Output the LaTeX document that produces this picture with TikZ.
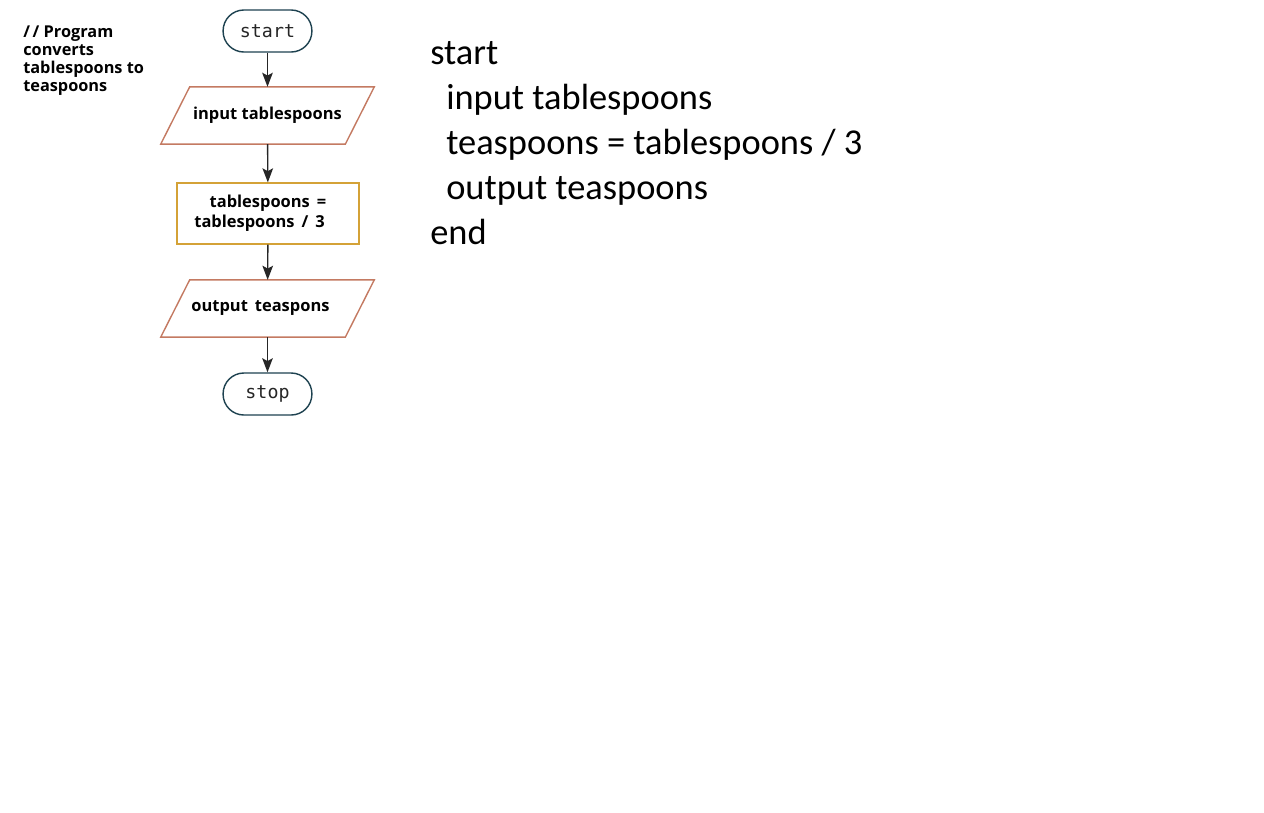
\documentclass[tikz,border=0pt]{standalone}
\usepackage{fontspec}
\setmainfont{Carlito}
\setmonofont{DejaVu Sans Mono}
\newfontfamily\chartfont{Open Sans}
\usetikzlibrary{shapes,arrows.meta,positioning,calc}
\definecolor{termline}{HTML}{1E4250}
\definecolor{ioline}{HTML}{C47A62}
\definecolor{procline}{HTML}{D4A237}

\begin{document}
\begin{tikzpicture}[x=0.025cm, y=-0.025cm,
    terminal/.style={draw=termline, line width=1pt, rounded corners=0.52cm,
      minimum width=2.22cm, minimum height=1.05cm, inner sep=0pt,
      font=\ttfamily\fontsize{13}{15}\selectfont, text=black!85},
    iobox/.style={minimum width=4.6cm, minimum height=1.42cm, inner sep=0pt,
      font=\chartfont\bfseries\fontsize{11.7}{14}\selectfont},
    ioedge/.style={draw=ioline, line width=1pt, line join=miter},
    procbox/.style={draw=procline, line width=1pt, minimum width=4.55cm,
      minimum height=1.52cm, inner sep=0pt, align=center,
      font=\chartfont\bfseries\fontsize{11.7}{14.2}\selectfont},
    flow/.style={-{Stealth[length=10pt,width=7.5pt,inset=2pt]}, line width=1pt, black!85},
    codeline/.style={anchor=base west, inner sep=0pt, font=\fontsize{25.9}{30}\selectfont}]
    \useasboundingbox[fill=white] (0,0) rectangle (1264,812);

    % Flowchart
    \node[terminal] (start) at (267.5,31) {start};
    \node[iobox] (input) at (267.5,115.5) {input tablespoons};
    \node[procbox] (calc) at (268,213.5) {tablespoons\, =\\tablespoons \,/\, 3\kern12pt};
    \node[iobox] (output) at (267.5,308.5) {output\, teaspons\kern10pt};
    \node[terminal] (stop) at (267.5,394) {stop};

    % parallelograms round the io nodes
    \draw[ioedge] ($(input.north west)+(14.5,0)$) -- ($(input.north east)+(14.5,0)$)
      -- ($(input.south east)+(-14.5,0)$) -- ($(input.south west)+(-14.5,0)$) -- cycle;
    \draw[ioedge] ($(output.north west)+(14.5,0)$) -- ($(output.north east)+(14.5,0)$)
      -- ($(output.south east)+(-14.5,0)$) -- ($(output.south west)+(-14.5,0)$) -- cycle;

    \draw[flow] (start) -- (input);
    \draw[flow] (input) -- (calc);
    \draw[flow] (calc) -- (output);
    \draw[flow] (output) -- (stop);

    % Comment
    \node[anchor=north west, inner sep=0pt, align=left,
      font=\chartfont\bfseries\fontsize{11.6}{12.8}\selectfont] (comment) at (23,26)
      {/\,/ Program\\converts\\tablespoons to\\teaspoons};

    % Pseudocode
    \node[codeline] (pstart) at (430,64) {start};
    \node[codeline] (pinput) at (446,109) {input tablespoons};
    \node[codeline] (pcalc) at (446,154) {teaspoons = tablespoons / 3};
    \node[codeline] (poutput) at (446,199) {output teaspoons};
    \node[codeline] (pend) at (430,244) {end};
\end{tikzpicture}
\end{document}
